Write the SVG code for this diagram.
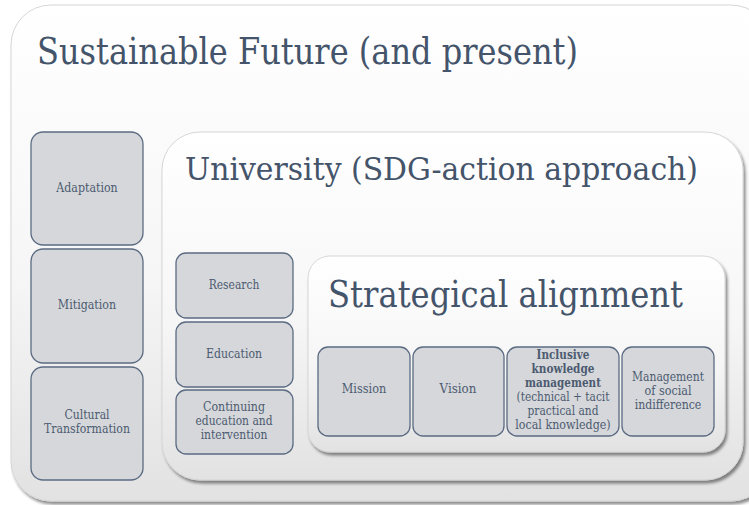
<svg xmlns="http://www.w3.org/2000/svg" width="749" height="505" viewBox="0 0 749 505">
  <defs>
    <linearGradient id="panelFill" x1="0" y1="0" x2="0" y2="1">
      <stop offset="0" stop-color="#ffffff"/>
      <stop offset="0.55" stop-color="#f6f6f6"/>
      <stop offset="1" stop-color="#e2e2e2"/>
    </linearGradient>
    <filter id="panelShadow" x="-5%" y="-5%" width="112%" height="115%">
      <feDropShadow dx="2" dy="3" stdDeviation="1.6" flood-color="#000000" flood-opacity="0.45"/>
    </filter>
    <style>
      .panel { fill: url(#panelFill); stroke: #d6d6d6; stroke-width: 1; filter: url(#panelShadow); }
      .box { fill: #d5d7db; stroke: #5b6b82; stroke-width: 1.3; }
      text { font-family: 'DejaVu Serif', 'Liberation Serif', serif; }
      .title { fill: #44546a; }
      .lbl { fill: #4d5b70; font-size: 12.5px; text-anchor: middle; }
      .bold { font-weight: bold; }
    </style>
  </defs>

  <rect width="749" height="505" fill="#ffffff"/>

  <!-- outer panel -->
  <g id="sustainable-future">
    <rect class="panel" x="11" y="5" width="760" height="496" rx="40" ry="40"/>
    <text class="title" x="37" y="64" font-size="38" textLength="541" lengthAdjust="spacingAndGlyphs">Sustainable Future (and present)</text>
  </g>

  <!-- left column -->
  <g id="adaptation">
    <rect class="box" x="31" y="132" width="112" height="113" rx="12"/>
    <text class="lbl" x="87" y="192" textLength="61.3" lengthAdjust="spacingAndGlyphs">Adaptation</text>
  </g>
  <g id="mitigation">
    <rect class="box" x="31" y="249" width="112" height="114" rx="12"/>
    <text class="lbl" x="87" y="309" textLength="58.3" lengthAdjust="spacingAndGlyphs">Mitigation</text>
  </g>
  <g id="cultural-transformation">
    <rect class="box" x="31" y="367" width="112" height="113" rx="12"/>
    <text class="lbl" x="87" y="419" textLength="45.2" lengthAdjust="spacingAndGlyphs">Cultural</text>
    <text class="lbl" x="87" y="433" textLength="85.9" lengthAdjust="spacingAndGlyphs">Transformation</text>
  </g>

  <!-- university panel -->
  <g id="university">
    <rect class="panel" x="162" y="132" width="581" height="348" rx="38" ry="38"/>
    <text class="title" x="185" y="180" font-size="31" textLength="513" lengthAdjust="spacingAndGlyphs">University (SDG-action approach)</text>
  </g>

  <g id="research">
    <rect class="box" x="176" y="253" width="117" height="65" rx="10"/>
    <text class="lbl" x="234" y="289" textLength="50.6" lengthAdjust="spacingAndGlyphs">Research</text>
  </g>
  <g id="education">
    <rect class="box" x="176" y="322" width="117" height="65" rx="10"/>
    <text class="lbl" x="234" y="358" textLength="56" lengthAdjust="spacingAndGlyphs">Education</text>
  </g>
  <g id="continuing-education">
    <rect class="box" x="176" y="390" width="117" height="64" rx="10"/>
    <text class="lbl" x="234" y="411" textLength="62.1" lengthAdjust="spacingAndGlyphs">Continuing</text>
    <text class="lbl" x="234" y="425" textLength="77" lengthAdjust="spacingAndGlyphs">education and</text>
    <text class="lbl" x="234" y="439" textLength="66.7" lengthAdjust="spacingAndGlyphs">intervention</text>
  </g>

  <!-- strategical alignment panel -->
  <g id="strategical-alignment">
    <rect class="panel" x="308" y="256" width="417" height="196" rx="22" ry="22"/>
    <text class="title" x="328" y="307" font-size="37" textLength="355" lengthAdjust="spacingAndGlyphs">Strategical alignment</text>
  </g>

  <g id="mission">
    <rect class="box" x="318" y="347" width="92" height="89" rx="10"/>
    <text class="lbl" x="364" y="393" textLength="44.5" lengthAdjust="spacingAndGlyphs">Mission</text>
  </g>
  <g id="vision">
    <rect class="box" x="413" y="347" width="91" height="89" rx="10"/>
    <text class="lbl" x="458" y="393" textLength="36.8" lengthAdjust="spacingAndGlyphs">Vision</text>
  </g>
  <g id="inclusive-knowledge">
    <rect class="box" x="507" y="347" width="112" height="89" rx="10"/>
    <text class="lbl bold" x="563" y="359" textLength="52.9" lengthAdjust="spacingAndGlyphs">Inclusive</text>
    <text class="lbl bold" x="563" y="373" textLength="62.9" lengthAdjust="spacingAndGlyphs">knowledge</text>
    <text class="lbl bold" x="563" y="387" textLength="75.9" lengthAdjust="spacingAndGlyphs">management</text>
    <text class="lbl" x="563" y="401" textLength="92.9" lengthAdjust="spacingAndGlyphs">(technical + tacit</text>
    <text class="lbl" x="563" y="415" textLength="70.9" lengthAdjust="spacingAndGlyphs">practical and</text>
    <text class="lbl" x="563" y="429" textLength="95.4" lengthAdjust="spacingAndGlyphs">local knowledge)</text>
  </g>
  <g id="social-indifference">
    <rect class="box" x="622" y="347" width="92" height="89" rx="10"/>
    <text class="lbl" x="668" y="381" textLength="72" lengthAdjust="spacingAndGlyphs">Management</text>
    <text class="lbl" x="668" y="395" textLength="47.1" lengthAdjust="spacingAndGlyphs">of social</text>
    <text class="lbl" x="668" y="409" textLength="66.7" lengthAdjust="spacingAndGlyphs">indifference</text>
  </g>

  <!-- no connectors in this figure -->
  <g id="connectors"/>
</svg>
